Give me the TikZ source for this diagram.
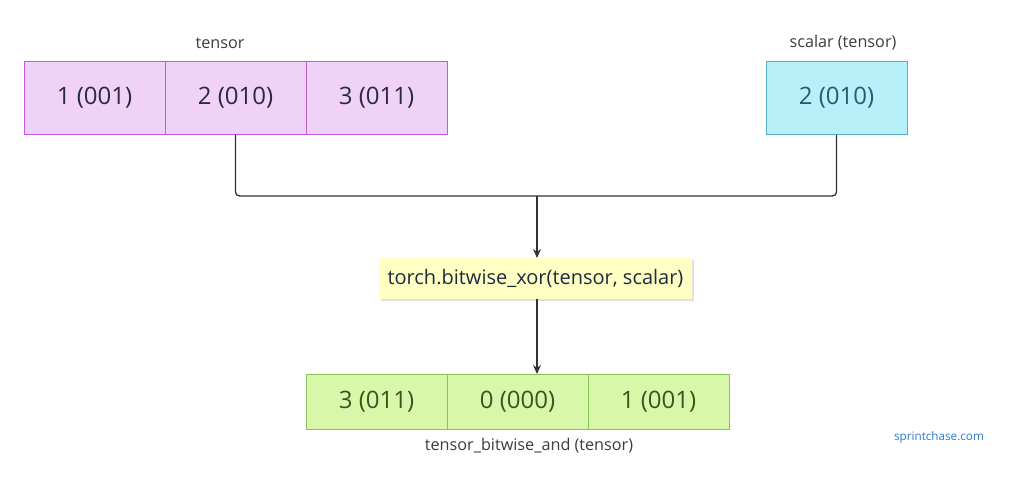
\documentclass[tikz,border=0pt]{standalone}
\usepackage{fontspec}
\setmainfont{Open Sans}
\usetikzlibrary{arrows.meta,calc}
\definecolor{pinkfill}{HTML}{F0D2F8}
\definecolor{pinkdraw}{HTML}{C25BD6}
\definecolor{pinktext}{HTML}{2A2A3C}
\definecolor{cyanfill}{HTML}{B8F0FA}
\definecolor{cyandraw}{HTML}{5AAFC8}
\definecolor{cyantext}{HTML}{2C5870}
\definecolor{yelfill}{HTML}{FFFFC4}
\definecolor{yeltext}{HTML}{1C2C40}
\definecolor{grnfill}{HTML}{D9F7A8}
\definecolor{grndraw}{HTML}{86C35A}
\definecolor{grntext}{HTML}{3C5420}
\definecolor{labtext}{HTML}{3C3C3C}
\definecolor{linec}{HTML}{333333}
\definecolor{webblue}{HTML}{2B7BD6}
\tikzset{
  cell/.style={draw, line width=1pt, minimum width=141pt, minimum height=73pt, inner sep=0pt, font=\fontsize{24}{28}\selectfont},
  pinkcell/.style={cell, fill=pinkfill, draw=pinkdraw, text=pinktext},
  cyancell/.style={cell, fill=cyanfill, draw=cyandraw, text=cyantext},
  grncell/.style={cell, fill=grnfill, draw=grndraw, text=grntext, minimum height=55pt},
  lab/.style={font=\fontsize{16.2}{19}\selectfont, text=labtext},
  conn/.style={draw=linec, line width=1.3pt, rounded corners=4pt},
  arr/.style={conn, -{Stealth[length=9pt,width=8pt]}},
}
\begin{document}
\begin{tikzpicture}[x=1pt,y=-1pt]
\useasboundingbox (0,0) rectangle (1024,491);
\fill[white] (0,0) rectangle (1024,491);
% tensor
\node[pinkcell] (t1) at (94.5,97.5) {1 (001)};
\node[pinkcell] (t2) at (235.5,97.5) {2 (010)};
\node[pinkcell] (t3) at (376.5,97.5) {3 (011)};
\node[lab] (tl) at (220,43) {tensor};
% scalar
\node[cyancell] (s1) at (836.5,97.5) {2 (010)};
\node[lab] (sl) at (843,43) {scalar (tensor)};
% function
\node[fill=black!12, minimum width=313pt, minimum height=41pt, inner sep=0pt] (fshadow) at (537.5,280.5) {};
\node[fill=yelfill, minimum width=313pt, minimum height=41pt, inner sep=0pt, text=yeltext, font=\fontsize{20}{24}\selectfont] (f) at (535.5,278.5) {torch.bitwise\_xor(tensor, scalar)};
% result
\node[grncell] (r1) at (376.5,401.5) {3 (011)};
\node[grncell] (r2) at (517.5,401.5) {0 (000)};
\node[grncell] (r3) at (658.5,401.5) {1 (001)};
\node[lab] (rl) at (529,446) {tensor\_bitwise\_and (tensor)};
\node[font=\fontsize{11.7}{14}\selectfont, text=webblue] (web) at (939,437) {sprintchase.com};
% connectors
\coordinate (j) at (537,196);
\draw[conn] (t2.south) |- (j);
\draw[conn] (s1.south) |- (j);
\draw[arr] (j) -- (537,258);
\draw[arr] (537,299) -- (537,374);
\end{tikzpicture}
\end{document}
